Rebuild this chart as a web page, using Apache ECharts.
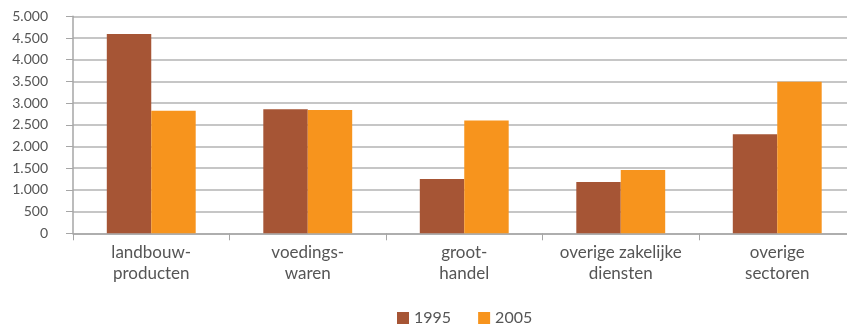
<!DOCTYPE html>
<html>
<head>
<meta charset="utf-8">
<script src="https://cdn.jsdelivr.net/npm/echarts@6/dist/echarts.min.js"></script>
<style>html,body{margin:0;padding:0;background:#fff}#c{width:847px;height:328px}</style>
</head>
<body>
<div id="c"></div>
<script>
const categories = ["landbouw-\nproducten", "voedings-\nwaren", "groot-\nhandel", "overige zakelijke\ndiensten", "overige\nsectoren"];
const series1995 = [4590, 2860, 1250, 1180, 2280];
const series2005 = [2825, 2840, 2600, 1460, 3490];
const seriesNames = ["1995", "2005"];
const yTicks = { min: 0, max: 5000, interval: 500 };

const fmt = v => String(v).replace(/\B(?=(\d{3})+(?!\d))/g, ".");
const font = "Lato, sans-serif";
const chart = echarts.init(document.getElementById('c'), null, { renderer: 'canvas' });
chart.setOption({
  animation: false,
  grid: { left: 73, width: 782.5, top: 16.3, height: 217, containLabel: false, outerBoundsMode: 'none' },
  legend: {
    data: seriesNames, left: 397, top: 309, itemWidth: 12, itemHeight: 12, itemGap: 27,
    icon: 'rect', padding: 0,
    textStyle: { fontFamily: font, fontSize: 16, color: '#555', lineHeight: 18 }
  },
  xAxis: {
    type: 'category', data: categories,
    axisLine: { lineStyle: { color: '#a6a6a6', width: 1.5 } },
    axisTick: { show: true, length: 7, lineStyle: { color: '#a6a6a6' } },
    axisLabel: { fontFamily: font, fontSize: 17, color: '#555', lineHeight: 21, margin: 9, interval: 0 }
  },
  yAxis: {
    type: 'value', min: yTicks.min, max: yTicks.max, interval: yTicks.interval,
    axisLine: { show: true, lineStyle: { color: '#a6a6a6', width: 1.5 } },
    axisTick: { show: true, length: 7, lineStyle: { color: '#a6a6a6' } },
    splitLine: { lineStyle: { color: '#b3b3b3', width: 1.5 } },
    axisLabel: { fontFamily: font, fontSize: 14, color: '#555', margin: 25, formatter: fmt }
  },
  series: [
    { name: seriesNames[0], type: 'bar', data: series1995, barWidth: '28.4%', barGap: '0%', itemStyle: { color: '#A65535' } },
    { name: seriesNames[1], type: 'bar', data: series2005, barWidth: '28.4%', itemStyle: { color: '#F7941D' } }
  ]
});
</script>
</body>
</html>
